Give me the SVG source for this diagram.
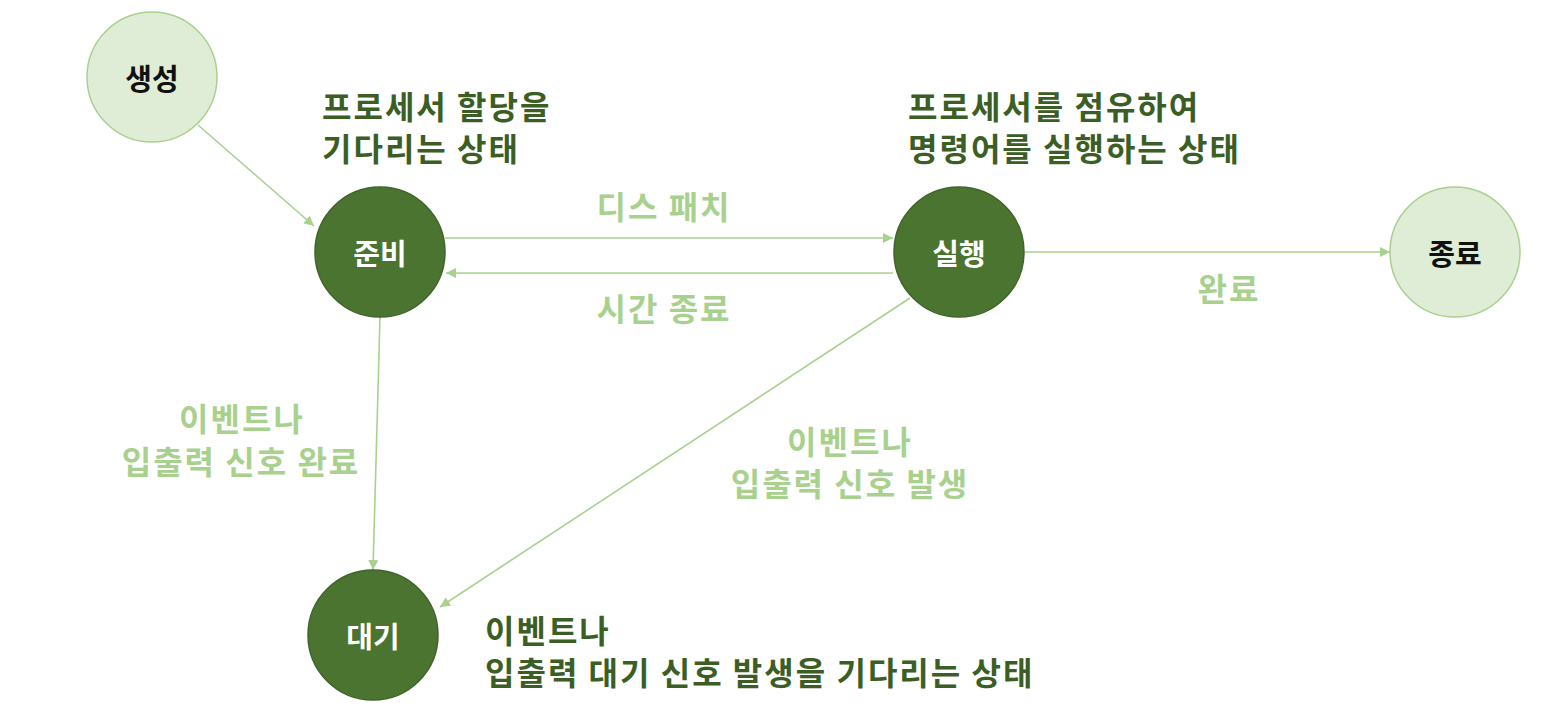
<svg xmlns="http://www.w3.org/2000/svg" width="1566" height="720" viewBox="0 0 1566 720">
<style>
.light{fill:#dfedd6;stroke:#a9d18e;stroke-width:1.5}
.dark{fill:#4a7430;stroke:#3f6428;stroke-width:1.5}
.t{font-family:"Noto Sans CJK KR","Noto Sans",sans-serif;font-weight:700;dominant-baseline:central}
.nl{font-size:29px;text-anchor:middle}
.blk{fill:#111}
.wht{fill:#fff}
.dg{fill:#3b5e25;font-size:32px;letter-spacing:2px}
.lg{fill:#a9d18e;font-size:32px;letter-spacing:2px;text-anchor:middle}
.edge{stroke:#a9d18e;stroke-width:1.6;fill:none;marker-end:url(#ah)}
</style>
<defs>
<marker id="ah" viewBox="0 0 10 10" refX="10" refY="5" markerWidth="10" markerHeight="10" markerUnits="userSpaceOnUse" orient="auto">
<path d="M0,0 L10,5 L0,10 Z" fill="#a9d18e"/>
</marker>
</defs>
<rect width="1566" height="720" fill="#fff"/>
<g id="connectors">
<line class="edge" x1="198" y1="125" x2="314" y2="226"/>
<line class="edge" x1="445" y1="238" x2="893" y2="238"/>
<line class="edge" x1="893" y1="273" x2="446" y2="273"/>
<line class="edge" x1="1025" y1="252" x2="1390" y2="252"/>
<line class="edge" x1="380" y1="317" x2="373" y2="570"/>
<line class="edge" x1="910" y1="298" x2="440" y2="607"/>
</g>
<g id="node-create"><circle class="light" cx="152" cy="77" r="65"/><text class="t nl blk" x="152" y="77">생성</text></g>
<g id="node-ready"><circle class="dark" cx="380" cy="252" r="65"/><text class="t nl wht" x="380" y="252">준비</text></g>
<g id="node-run"><circle class="dark" cx="959" cy="252" r="65"/><text class="t nl wht" x="959" y="252">실행</text></g>
<g id="node-exit"><circle class="light" cx="1455" cy="252" r="65"/><text class="t nl blk" x="1455" y="252">종료</text></g>
<g id="node-wait"><circle class="dark" cx="373" cy="635" r="65"/><text class="t nl wht" x="373" y="635">대기</text></g>
<g id="labels">
<text class="t dg" x="322" y="105">프로세서 할당을</text>
<text class="t dg" x="322" y="147">기다리는 상태</text>
<text class="t dg" x="908" y="105">프로세서를 점유하여</text>
<text class="t dg" x="908" y="147">명령어를 실행하는 상태</text>
<text class="t dg" x="485" y="629">이벤트나</text>
<text class="t dg" x="485" y="671">입출력 대기 신호 발생을 기다리는 상태</text>
<text class="t lg" x="664" y="205">디스 패치</text>
<text class="t lg" x="664" y="307">시간 종료</text>
<text class="t lg" x="1229" y="287">완료</text>
<text class="t lg" x="242" y="417">이벤트나</text>
<text class="t lg" x="241" y="460">입출력 신호 완료</text>
<text class="t lg" x="850" y="440">이벤트나</text>
<text class="t lg" x="850" y="482">입출력 신호 발생</text>
</g>
</svg>
